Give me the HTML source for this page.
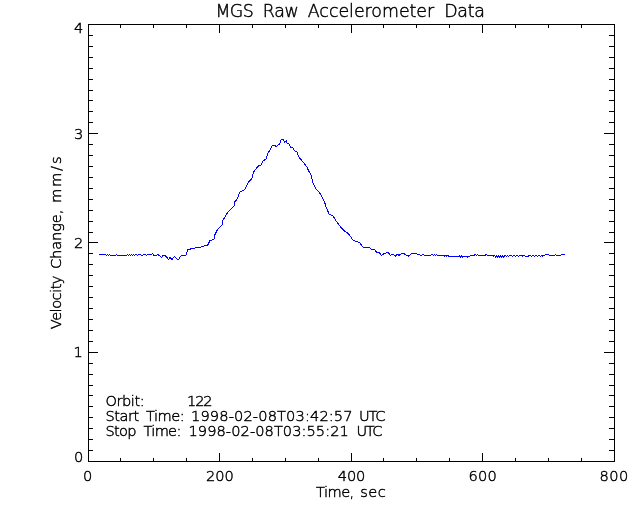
<!DOCTYPE html>
<html><head><meta charset="utf-8"><title>MGS Raw Accelerometer Data</title>
<style>
html,body{margin:0;padding:0;background:#fff;}
body{width:640px;height:512px;overflow:hidden;}
svg{display:block;}
text{font-family:"DejaVu Sans Light","DejaVu Sans","Liberation Sans",sans-serif;font-weight:200;fill:#000;stroke:#000;stroke-width:0.45px;}
</style></head><body>
<svg width="640" height="512" viewBox="0 0 640 512">
<rect x="0" y="0" width="640" height="512" fill="#fff"/>
<g shape-rendering="crispEdges">
<rect x="88" y="24" width="527" height="1" fill="#000"/>
<rect x="88" y="461" width="527" height="1" fill="#000"/>
<rect x="88" y="24" width="1" height="438" fill="#000"/>
<rect x="614" y="24" width="1" height="438" fill="#000"/>
<rect x="120" y="24" width="1" height="4" fill="#000"/>
<rect x="120" y="458" width="1" height="4" fill="#000"/>
<rect x="153" y="24" width="1" height="4" fill="#000"/>
<rect x="153" y="458" width="1" height="4" fill="#000"/>
<rect x="186" y="24" width="1" height="4" fill="#000"/>
<rect x="186" y="458" width="1" height="4" fill="#000"/>
<rect x="219" y="24" width="1" height="9" fill="#000"/>
<rect x="219" y="453" width="1" height="9" fill="#000"/>
<rect x="252" y="24" width="1" height="4" fill="#000"/>
<rect x="252" y="458" width="1" height="4" fill="#000"/>
<rect x="285" y="24" width="1" height="4" fill="#000"/>
<rect x="285" y="458" width="1" height="4" fill="#000"/>
<rect x="318" y="24" width="1" height="4" fill="#000"/>
<rect x="318" y="458" width="1" height="4" fill="#000"/>
<rect x="351" y="24" width="1" height="9" fill="#000"/>
<rect x="351" y="453" width="1" height="9" fill="#000"/>
<rect x="383" y="24" width="1" height="4" fill="#000"/>
<rect x="383" y="458" width="1" height="4" fill="#000"/>
<rect x="416" y="24" width="1" height="4" fill="#000"/>
<rect x="416" y="458" width="1" height="4" fill="#000"/>
<rect x="449" y="24" width="1" height="4" fill="#000"/>
<rect x="449" y="458" width="1" height="4" fill="#000"/>
<rect x="482" y="24" width="1" height="9" fill="#000"/>
<rect x="482" y="453" width="1" height="9" fill="#000"/>
<rect x="515" y="24" width="1" height="4" fill="#000"/>
<rect x="515" y="458" width="1" height="4" fill="#000"/>
<rect x="548" y="24" width="1" height="4" fill="#000"/>
<rect x="548" y="458" width="1" height="4" fill="#000"/>
<rect x="581" y="24" width="1" height="4" fill="#000"/>
<rect x="581" y="458" width="1" height="4" fill="#000"/>
<rect x="88" y="450" width="5" height="1" fill="#000"/>
<rect x="609" y="450" width="6" height="1" fill="#000"/>
<rect x="88" y="439" width="5" height="1" fill="#000"/>
<rect x="609" y="439" width="6" height="1" fill="#000"/>
<rect x="88" y="428" width="5" height="1" fill="#000"/>
<rect x="609" y="428" width="6" height="1" fill="#000"/>
<rect x="88" y="417" width="5" height="1" fill="#000"/>
<rect x="609" y="417" width="6" height="1" fill="#000"/>
<rect x="88" y="406" width="5" height="1" fill="#000"/>
<rect x="609" y="406" width="6" height="1" fill="#000"/>
<rect x="88" y="395" width="5" height="1" fill="#000"/>
<rect x="609" y="395" width="6" height="1" fill="#000"/>
<rect x="88" y="385" width="5" height="1" fill="#000"/>
<rect x="609" y="385" width="6" height="1" fill="#000"/>
<rect x="88" y="374" width="5" height="1" fill="#000"/>
<rect x="609" y="374" width="6" height="1" fill="#000"/>
<rect x="88" y="363" width="5" height="1" fill="#000"/>
<rect x="609" y="363" width="6" height="1" fill="#000"/>
<rect x="88" y="352" width="10" height="1" fill="#000"/>
<rect x="604" y="352" width="11" height="1" fill="#000"/>
<rect x="88" y="341" width="5" height="1" fill="#000"/>
<rect x="609" y="341" width="6" height="1" fill="#000"/>
<rect x="88" y="330" width="5" height="1" fill="#000"/>
<rect x="609" y="330" width="6" height="1" fill="#000"/>
<rect x="88" y="319" width="5" height="1" fill="#000"/>
<rect x="609" y="319" width="6" height="1" fill="#000"/>
<rect x="88" y="308" width="5" height="1" fill="#000"/>
<rect x="609" y="308" width="6" height="1" fill="#000"/>
<rect x="88" y="297" width="5" height="1" fill="#000"/>
<rect x="609" y="297" width="6" height="1" fill="#000"/>
<rect x="88" y="286" width="5" height="1" fill="#000"/>
<rect x="609" y="286" width="6" height="1" fill="#000"/>
<rect x="88" y="275" width="5" height="1" fill="#000"/>
<rect x="609" y="275" width="6" height="1" fill="#000"/>
<rect x="88" y="264" width="5" height="1" fill="#000"/>
<rect x="609" y="264" width="6" height="1" fill="#000"/>
<rect x="88" y="253" width="5" height="1" fill="#000"/>
<rect x="609" y="253" width="6" height="1" fill="#000"/>
<rect x="88" y="242" width="10" height="1" fill="#000"/>
<rect x="604" y="242" width="11" height="1" fill="#000"/>
<rect x="88" y="232" width="5" height="1" fill="#000"/>
<rect x="609" y="232" width="6" height="1" fill="#000"/>
<rect x="88" y="221" width="5" height="1" fill="#000"/>
<rect x="609" y="221" width="6" height="1" fill="#000"/>
<rect x="88" y="210" width="5" height="1" fill="#000"/>
<rect x="609" y="210" width="6" height="1" fill="#000"/>
<rect x="88" y="199" width="5" height="1" fill="#000"/>
<rect x="609" y="199" width="6" height="1" fill="#000"/>
<rect x="88" y="188" width="5" height="1" fill="#000"/>
<rect x="609" y="188" width="6" height="1" fill="#000"/>
<rect x="88" y="177" width="5" height="1" fill="#000"/>
<rect x="609" y="177" width="6" height="1" fill="#000"/>
<rect x="88" y="166" width="5" height="1" fill="#000"/>
<rect x="609" y="166" width="6" height="1" fill="#000"/>
<rect x="88" y="155" width="5" height="1" fill="#000"/>
<rect x="609" y="155" width="6" height="1" fill="#000"/>
<rect x="88" y="144" width="5" height="1" fill="#000"/>
<rect x="609" y="144" width="6" height="1" fill="#000"/>
<rect x="88" y="133" width="10" height="1" fill="#000"/>
<rect x="604" y="133" width="11" height="1" fill="#000"/>
<rect x="88" y="122" width="5" height="1" fill="#000"/>
<rect x="609" y="122" width="6" height="1" fill="#000"/>
<rect x="88" y="111" width="5" height="1" fill="#000"/>
<rect x="609" y="111" width="6" height="1" fill="#000"/>
<rect x="88" y="100" width="5" height="1" fill="#000"/>
<rect x="609" y="100" width="6" height="1" fill="#000"/>
<rect x="88" y="90" width="5" height="1" fill="#000"/>
<rect x="609" y="90" width="6" height="1" fill="#000"/>
<rect x="88" y="79" width="5" height="1" fill="#000"/>
<rect x="609" y="79" width="6" height="1" fill="#000"/>
<rect x="88" y="68" width="5" height="1" fill="#000"/>
<rect x="609" y="68" width="6" height="1" fill="#000"/>
<rect x="88" y="57" width="5" height="1" fill="#000"/>
<rect x="609" y="57" width="6" height="1" fill="#000"/>
<rect x="88" y="46" width="5" height="1" fill="#000"/>
<rect x="609" y="46" width="6" height="1" fill="#000"/>
<rect x="88" y="35" width="5" height="1" fill="#000"/>
<rect x="609" y="35" width="6" height="1" fill="#000"/>
<polyline fill="none" stroke="#0000ff" stroke-width="1" stroke-linejoin="miter" points="99.50,255.00 100.50,254.40 102.50,254.40 103.50,254.60 105.50,254.40 106.50,255.20 107.50,254.40 108.50,255.20 109.50,254.50 110.50,255.30 115.50,255.30 116.50,254.50 117.50,255.30 126.50,255.30 127.50,254.50 128.50,255.30 129.50,254.50 130.50,255.30 131.50,254.50 132.50,255.30 133.50,254.50 134.50,255.30 135.50,254.50 136.50,254.50 137.50,255.30 138.50,254.50 140.50,254.50 141.50,255.30 142.50,255.30 143.50,254.50 145.50,254.50 146.50,255.30 147.50,254.50 151.50,254.40 152.50,253.50 153.70,255.20 156.50,255.20 158.00,254.40 161.50,257.50 163.00,255.40 165.00,255.40 168.50,259.30 170.20,257.50 172.00,259.60 174.50,256.40 177.00,259.30 178.75,259.30 181.25,255.40 186.25,255.00 187.75,249.75 192.50,248.50 200.00,247.25 207.75,245.00 210.00,240.60 214.30,239.00 214.80,235.00 217.40,229.70 222.10,224.70 222.80,220.60 227.60,212.40 234.40,205.60 234.70,202.10 237.80,198.00 239.50,192.30 244.70,189.60 248.80,181.60 251.80,178.50 253.50,172.20 258.00,166.20 261.40,164.90 262.80,161.20 266.20,158.70 267.60,153.90 272.40,145.70 274.40,145.30 276.20,146.40 279.90,143.70 281.20,139.60 283.00,139.60 284.70,142.30 286.40,140.70 286.70,143.00 288.80,143.70 290.80,147.10 292.90,147.50 294.20,150.50 297.00,151.90 299.00,157.40 303.80,162.80 307.20,167.60 308.60,171.00 311.30,175.10 312.70,182.60 316.10,188.80 320.30,193.80 324.60,202.30 326.60,208.50 329.40,214.60 332.80,215.60 335.50,220.10 339.60,225.80 345.10,231.70 347.80,233.10 351.20,237.20 352.60,239.90 356.00,241.70 359.40,242.20 362.20,246.10 363.50,247.40 369.70,247.40 371.10,249.20 374.50,249.50 376.50,252.20 379.30,252.60 381.60,255.40 384.70,253.20 388.30,252.70 390.40,255.40 392.80,254.40 395.60,256.10 397.20,254.40 399.00,255.30 401.90,253.40 404.50,254.00 408.40,256.10 411.90,253.40 416.25,253.75 421.00,255.20 423.50,254.50 424.50,255.20 430.30,255.20 431.90,254.40 433.50,255.20 434.50,254.40 435.50,255.20 436.50,254.50 437.50,255.20 442.80,255.20 444.50,256.00 445.50,255.20 446.50,256.00 447.50,255.20 448.50,256.00 450.60,256.90 452.50,256.10 453.50,256.90 458.40,256.90 459.50,256.10 460.50,256.90 461.50,256.10 462.50,256.90 463.50,256.10 466.50,256.10 467.50,256.90 468.50,256.10 469.40,256.40 471.00,255.30 474.00,255.30 475.60,254.40 476.50,255.20 477.50,254.40 478.75,255.30 485.00,255.30 486.25,254.60 488.00,255.30 489.50,255.30 491.00,255.90 492.50,255.30 493.50,256.10 494.50,255.50 495.50,256.90 496.50,256.10 497.50,256.90 498.50,256.10 499.50,256.90 500.50,256.10 501.50,256.90 502.50,256.10 503.50,256.90 505.00,255.60 506.50,256.20 507.50,255.40 508.50,256.20 509.50,255.40 511.50,255.40 512.50,256.20 513.50,255.40 515.50,256.20 516.50,255.40 518.50,256.20 519.50,255.40 521.50,255.40 522.50,256.00 523.75,255.40 525.00,256.10 526.00,256.90 527.50,256.10 528.50,256.10 529.50,255.40 531.50,256.20 532.50,255.40 534.50,256.20 535.50,255.40 537.50,256.20 538.50,255.40 540.50,256.20 541.50,255.40 542.50,256.00 544.50,255.30 547.20,254.40 548.50,254.40 549.50,255.20 554.50,255.20 555.50,254.50 556.50,255.20 560.50,255.20 562.00,254.40 564.90,254.40"/>
</g>
<g>
<text y="17" font-size="17.4"><tspan x="215.40" textLength="38.40" lengthAdjust="spacing">MGS</tspan> <tspan x="262.70" textLength="36.10" lengthAdjust="spacing">Raw</tspan> <tspan x="307.80" textLength="126.40" lengthAdjust="spacing">Accelerometer</tspan> <tspan x="444.20" textLength="40.60" lengthAdjust="spacing">Data</tspan></text>
<text y="481" font-size="14.6"><tspan x="83.00">0</tspan></text>
<text y="481" font-size="14.6"><tspan x="205.88" textLength="27.92" lengthAdjust="spacing">200</tspan></text>
<text y="481" font-size="14.6"><tspan x="337.76" textLength="27.62" lengthAdjust="spacing">400</tspan></text>
<text y="481" font-size="14.6"><tspan x="468.50" textLength="28.30" lengthAdjust="spacing">600</tspan></text>
<text y="481" font-size="14.6"><tspan x="599.50" textLength="28.84" lengthAdjust="spacing">800</tspan></text>
<text y="32.7" font-size="14.6"><tspan x="74.00">4</tspan></text>
<text y="139" font-size="14.6"><tspan x="74.00">3</tspan></text>
<text y="248" font-size="14.6"><tspan x="74.00">2</tspan></text>
<text y="357" font-size="14.6"><tspan x="73.40">1</tspan></text>
<text y="462" font-size="14.6"><tspan x="74.00">0</tspan></text>
<text y="496.6" font-size="14.6"><tspan x="316.05" textLength="38.21" lengthAdjust="spacing">Time,</tspan> <tspan x="360.25" textLength="25.50" lengthAdjust="spacing">sec</tspan></text>
<text y="405.5" font-size="14.6"><tspan x="105.50" textLength="39.10" lengthAdjust="spacing">Orbit:</tspan> <tspan x="187.00" textLength="25.55" lengthAdjust="spacing">122</tspan></text>
<text y="420.5" font-size="14.6"><tspan x="105.50" textLength="33.75" lengthAdjust="spacing">Start</tspan> <tspan x="146.05" textLength="38.55" lengthAdjust="spacing">Time:</tspan> <tspan x="191.00" textLength="161.55" lengthAdjust="spacing">1998-02-08T03:42:57</tspan> <tspan x="359.00" textLength="26.50" lengthAdjust="spacing">UTC</tspan></text>
<text y="435.5" font-size="14.6"><tspan x="105.50" textLength="31.00" lengthAdjust="spacing">Stop</tspan> <tspan x="143.55" textLength="37.75" lengthAdjust="spacing">Time:</tspan> <tspan x="188.50" textLength="160.30" lengthAdjust="spacing">1998-02-08T03:55:21</tspan> <tspan x="356.50" textLength="26.00" lengthAdjust="spacing">UTC</tspan></text>
<text transform="translate(61.4,242.5) rotate(-90)" font-size="14.6"><tspan x="-86.70" textLength="53.70" lengthAdjust="spacing">Velocity</tspan> <tspan x="-26.50" textLength="59.30" lengthAdjust="spacing">Change,</tspan> <tspan x="39.50" textLength="46.50" lengthAdjust="spacing">mm/s</tspan></text>
</g>
</svg>
</body></html>
